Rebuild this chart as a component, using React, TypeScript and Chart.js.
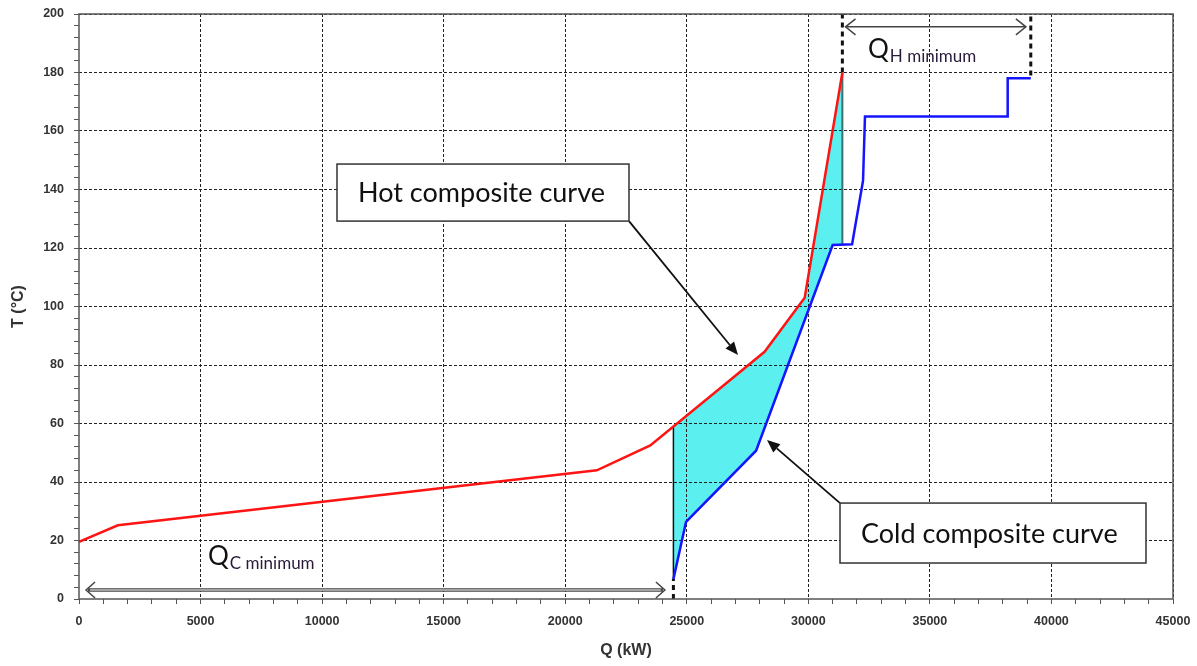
import React, { useEffect, useRef } from 'react';
import { Chart, registerables } from 'chart.js';

Chart.register(...registerables);

// ---------- data ----------
const xTickLabels = ['0', '5000', '10000', '15000', '20000', '25000', '30000', '35000', '40000', '45000'];
const yTickLabels = ['0', '20', '40', '60', '80', '100', '120', '140', '160', '180', '200'];

const hotQ = [0, 1600, 21300, 23500, 28200, 29850, 31400];
const hotT = [19.5, 25.2, 44, 52.5, 84.5, 103, 180];

const coldQ = [24450, 24970, 27850, 31000, 31800, 32250, 32330, 38200, 38200, 39150];
const coldT = [6.8, 26.4, 50.7, 121, 121.3, 143, 165, 165, 178, 178];

const xTitle = 'Q (kW)';
const yTitle = 'T (°C)';
const hotCalloutText = 'Hot composite curve';
const coldCalloutText = 'Cold composite curve';
const qhMain = 'Q';
const qhSub = 'H minimum';
const qcMain = 'Q';
const qcSub = 'C minimum';

// ---------- helpers ----------
function interp(q: number, qs: number[], ts: number[]): number {
  for (let i = 0; i < qs.length - 1; i++) {
    const a = qs[i], b = qs[i + 1];
    if (a === b) continue;
    if (q >= Math.min(a, b) && q <= Math.max(a, b)) {
      return ts[i] + ((q - a) / (b - a)) * (ts[i + 1] - ts[i]);
    }
  }
  return ts[ts.length - 1];
}

const toPts = (qs: number[], ts: number[]) => qs.map((q, i) => ({ x: q, y: ts[i] }));

const Qc = coldQ[0];
const Qh = hotQ[hotQ.length - 1];
const hotAtQc = interp(Qc, hotQ, hotT);
const coldAtQh = interp(Qh, coldQ, coldT);
const hotTop = hotT[hotT.length - 1];
const coldEndQ = coldQ[coldQ.length - 1];
const coldEndT = coldT[coldT.length - 1];

const polygon: { x: number; y: number }[] = [];
polygon.push({ x: Qc, y: hotAtQc });
hotQ.forEach((q, i) => {
  if (q > Qc && q <= Qh) polygon.push({ x: q, y: hotT[i] });
});
polygon.push({ x: Qh, y: coldAtQh });
for (let i = coldQ.length - 1; i >= 0; i--) {
  if (coldQ[i] >= Qc && coldQ[i] < Qh) polygon.push({ x: coldQ[i], y: coldT[i] });
}

// ---------- drawing helpers ----------
function filledHead(ctx: CanvasRenderingContext2D, x1: number, y1: number, x2: number, y2: number, len: number, w: number) {
  const a = Math.atan2(y2 - y1, x2 - x1);
  const bx = x2 - len * Math.cos(a);
  const by = y2 - len * Math.sin(a);
  ctx.beginPath();
  ctx.moveTo(x1, y1);
  ctx.lineTo(bx, by);
  ctx.stroke();
  ctx.beginPath();
  ctx.moveTo(x2, y2);
  ctx.lineTo(bx + w * Math.sin(a), by - w * Math.cos(a));
  ctx.lineTo(bx - w * Math.sin(a), by + w * Math.cos(a));
  ctx.closePath();
  ctx.fill();
}

function chevron(ctx: CanvasRenderingContext2D, x: number, y: number, dir: number, len: number, h: number) {
  ctx.beginPath();
  ctx.moveTo(x - dir * len, y - h);
  ctx.lineTo(x, y);
  ctx.lineTo(x - dir * len, y + h);
  ctx.stroke();
}

const annotationPlugin = {
  id: 'annotations',
  afterDraw(chart: any) {
    const ctx: CanvasRenderingContext2D = chart.ctx;
    const xs = chart.scales.x;
    const ys = chart.scales.y;
    const px = (q: number) => xs.getPixelForValue(q);
    const py = (t: number) => ys.getPixelForValue(t);
    const ca = chart.chartArea;

    ctx.save();
    // plot frame
    ctx.strokeStyle = '#555';
    ctx.lineWidth = 1.5;
    ctx.strokeRect(ca.left, ca.top, ca.right - ca.left, ca.bottom - ca.top);

    // hot callout
    const hb = { l: px(10612), r: px(22623), t: py(148.7), b: py(129.2) };
    ctx.strokeStyle = '#111';
    ctx.fillStyle = '#111';
    ctx.lineWidth = 1.8;
    filledHead(ctx, hb.r, hb.b, px(27107), py(83.4), 13, 5.5);
    ctx.fillStyle = '#fff';
    ctx.fillRect(hb.l, hb.t, hb.r - hb.l, hb.b - hb.t);
    ctx.strokeStyle = '#333';
    ctx.lineWidth = 1.5;
    ctx.strokeRect(hb.l, hb.t, hb.r - hb.l, hb.b - hb.t);
    ctx.fillStyle = '#111';
    ctx.font = '27px Lato';
    ctx.textBaseline = 'middle';
    ctx.textAlign = 'left';
    ctx.fillText(hotCalloutText, hb.l + 21, (hb.t + hb.b) / 2 + 1);

    // cold callout
    const cb = { l: px(31303), r: px(43889), t: py(32.8), b: py(12.3) };
    ctx.strokeStyle = '#111';
    ctx.fillStyle = '#111';
    ctx.lineWidth = 1.8;
    filledHead(ctx, cb.l, cb.t, px(28300), py(54.4), 13, 5.5);
    ctx.fillStyle = '#fff';
    ctx.fillRect(cb.l, cb.t, cb.r - cb.l, cb.b - cb.t);
    ctx.strokeStyle = '#333';
    ctx.lineWidth = 1.5;
    ctx.strokeRect(cb.l, cb.t, cb.r - cb.l, cb.b - cb.t);
    ctx.fillStyle = '#111';
    ctx.fillText(coldCalloutText, cb.l + 21, (cb.t + cb.b) / 2 + 1);

    // QH arrow
    const qhY = py(195.6);
    const qhL = px(Qh + 130);
    const qhR = px(coldEndQ - 200);
    ctx.strokeStyle = '#444';
    ctx.lineWidth = 1.5;
    ctx.beginPath();
    ctx.moveTo(qhL, qhY);
    ctx.lineTo(qhR, qhY);
    ctx.stroke();
    chevron(ctx, qhL, qhY, -1, 10, 8);
    chevron(ctx, qhR, qhY, 1, 10, 8);

    // QC arrow (double line)
    const qcY = py(3.08);
    const qcL = px(290);
    const qcR = px(Qc - 350);
    ctx.strokeStyle = '#444';
    ctx.lineWidth = 3.5;
    ctx.beginPath();
    ctx.moveTo(qcL + 2, qcY);
    ctx.lineTo(qcR - 2, qcY);
    ctx.stroke();
    ctx.strokeStyle = '#fff';
    ctx.lineWidth = 1.2;
    ctx.beginPath();
    ctx.moveTo(qcL + 4, qcY);
    ctx.lineTo(qcR - 4, qcY);
    ctx.stroke();
    ctx.strokeStyle = '#444';
    ctx.lineWidth = 1.5;
    chevron(ctx, qcL, qcY, -1, 9, 8);
    chevron(ctx, qcR, qcY, 1, 9, 8);

    // labels
    const drawQ = (main: string, sub: string, q: number, t: number) => {
      const x = px(q);
      const y = py(t);
      ctx.fillStyle = '#111';
      ctx.textBaseline = 'alphabetic';
      ctx.textAlign = 'left';
      ctx.font = '26px Lato';
      ctx.fillText(main, x, y);
      const w = ctx.measureText(main).width;
      ctx.font = '17px Lato';
      ctx.fillStyle = '#2a1a3a';
      ctx.fillText(sub, x + w + 1, y + 4);
    };
    drawQ(qhMain, qhSub, 32455, 184.9);
    drawQ(qcMain, qcSub, 5306, 11.5);

    ctx.restore();
  },
};

export default function App() {
  const ref = useRef<HTMLCanvasElement | null>(null);

  useEffect(() => {
    if (!ref.current) return;
    const tickFont = { family: '"Liberation Sans", Arial, sans-serif', size: 12.5, weight: 'bold' as const };
    const titleFont = { family: '"Liberation Sans", Arial, sans-serif', size: 16, weight: 'bold' as const };
    const line = (data: any[], color: string, width: number, extra: any = {}) => ({
      data,
      borderColor: color,
      borderWidth: width,
      pointRadius: 0,
      fill: false,
      tension: 0,
      ...extra,
    });

    const chart = new Chart(ref.current, {
      type: 'line',
      data: {
        datasets: [
          line(toPts(hotQ, hotT), '#ff1414', 2.5, { order: 1 }),
          line(toPts(coldQ, coldT), '#1414ff', 2.5, { order: 1 }),
          line([{ x: Qc, y: coldT[0] }, { x: Qc, y: hotAtQc }], '#111', 1.5, { order: 2 }),
          line([{ x: Qc, y: 0 }, { x: Qc, y: coldT[0] }], '#111', 3, { order: 2, borderDash: [5, 4] }),
          line([{ x: Qh, y: hotTop }, { x: Qh, y: coldAtQh }], '#3f6f6f', 2, { order: 2 }),
          line([{ x: Qh, y: hotTop }, { x: Qh, y: 200 }], '#111', 3, { order: 2, borderDash: [5, 4] }),
          line([{ x: coldEndQ, y: coldEndT + 1 }, { x: coldEndQ, y: 200 }], '#111', 3, { order: 2, borderDash: [5, 4] }),
          {
            data: polygon,
            borderWidth: 0,
            borderColor: 'rgba(0,0,0,0)',
            backgroundColor: '#5cefef',
            pointRadius: 0,
            fill: 'shape',
            tension: 0,
            order: 10,
          },
        ],
      },
      options: {
        responsive: false,
        animation: false,
        devicePixelRatio: 1,
        layout: { padding: { left: 0, top: 14, right: 24, bottom: 0 } },
        plugins: {
          legend: { display: false },
          tooltip: { enabled: false },
          filler: { drawTime: 'beforeDraw' },
        },
        scales: {
          x: {
            type: 'linear',
            min: 0,
            max: 45000,
            afterFit: (s: any) => { s.height = 67; s.paddingLeft = 0; s.paddingRight = 0; },
            ticks: {
              stepSize: 1000,
              autoSkip: false,
              maxRotation: 0,
              minRotation: 0,
              padding: 10,
              color: '#333',
              font: tickFont,
              callback: (v: any) => (Number(v) % 5000 === 0 ? xTickLabels[Number(v) / 5000] : ''),
            },
            grid: {
              color: (c: any) => (c.tick && c.tick.value % 5000 === 0 && c.tick.value !== 0 ? '#222' : 'rgba(0,0,0,0)'),
              lineWidth: 1,
              drawTicks: true,
              tickLength: 5,
              tickColor: '#555',
              tickWidth: 1,
              tickBorderDash: [],
            },
            border: { display: false, dash: [3, 2] },
            title: { display: true, text: xTitle, color: '#333', font: titleFont, padding: { top: 4, bottom: 6 } },
          },
          y: {
            type: 'linear',
            min: 0,
            max: 200,
            afterFit: (s: any) => { s.width = 79; s.paddingTop = 0; s.paddingBottom = 0; },
            ticks: {
              stepSize: 4,
              autoSkip: false,
              padding: 10,
              color: '#333',
              font: tickFont,
              callback: (v: any) => (Number(v) % 20 === 0 ? yTickLabels[Number(v) / 20] : ''),
            },
            grid: {
              color: (c: any) => (c.tick && c.tick.value % 20 === 0 && c.tick.value !== 0 ? '#222' : 'rgba(0,0,0,0)'),
              lineWidth: 1,
              drawTicks: true,
              tickLength: 5,
              tickColor: '#555',
              tickWidth: 1,
              tickBorderDash: [],
            },
            border: { display: false, dash: [3, 2] },
            title: { display: true, text: yTitle, color: '#333', font: titleFont, padding: { top: 9, bottom: 9 } },
          },
        },
      } as any,
      plugins: [annotationPlugin],
    });
    return () => chart.destroy();
  }, []);

  return (
    <div style={{ position: 'fixed', left: 0, top: 0, width: 1197, height: 666, background: '#fff' }}>
      <canvas ref={ref} width={1197} height={666} />
    </div>
  );
}
